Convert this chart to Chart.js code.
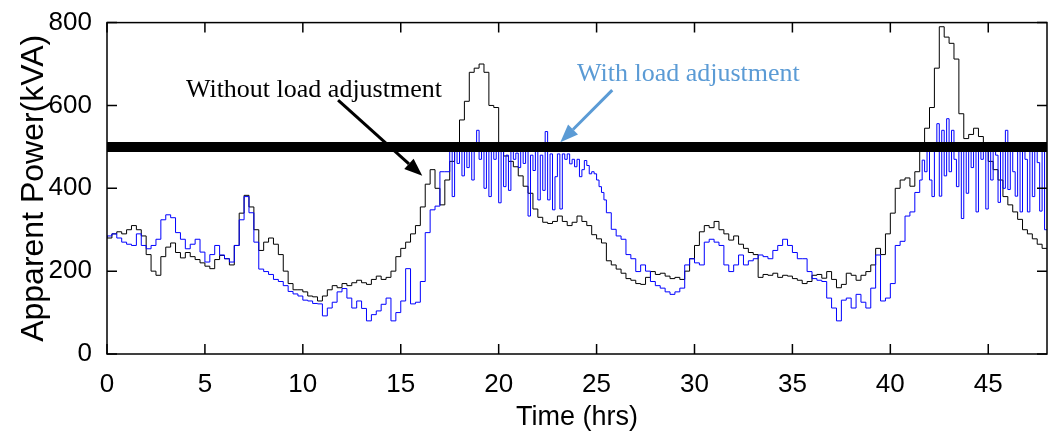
<!DOCTYPE html>
<html>
<head>
<meta charset="utf-8">
<script src="https://cdn.jsdelivr.net/npm/chart.js@4.4.1/dist/chart.umd.min.js"></script>
<style>
  html, body { margin: 0; padding: 0; background: #fff; }
  #wrap { width: 1051px; height: 444px; position: relative; }
</style>
</head>
<body>
<div id="wrap"><canvas id="chart"></canvas></div>
<script>
"use strict";

// one sample every quarter hour, 0..48 hrs
const stepHrs = 0.25;

// kVA, without load adjustment (black)
const withoutAdjust = [
  285, 280, 290, 295,  290, 300, 310, 300,  285, 240, 200, 190,  235, 258, 268, 245,
  232, 245, 235, 228,  220, 212, 206, 228,  238, 230, 215, 262,  340, 383, 355, 300,
  250, 270, 280, 265,  240, 200, 170, 155,  155, 150, 140, 138,  128, 140, 155, 165,
  160, 170, 165, 172,  178, 172, 168, 180,  188, 180, 185, 200,  235, 255, 270, 290,
  310, 355, 410, 445,  400, 360, 420, 465,  510, 565, 610, 680,  690, 700, 680, 600,
  595, 505, 478, 465,  452, 430, 405, 388,  350, 330, 318, 315,  320, 333, 320, 310,
  318, 333, 320, 310,  288, 278, 268, 225,  215, 205, 195, 182,  178, 170, 168, 185,
  199, 192, 195, 188,  182, 185, 180, 200,  230, 262, 295, 310,  305, 320, 300, 290,
  275, 285, 265, 255,  245, 240, 185, 192,  190, 195, 185, 190,  188, 182, 178, 170,
  175, 190, 192, 183,  199, 180, 160, 168,  195, 190, 178, 190,  199, 215, 255, 240,
  290, 340, 400, 420,  425, 405, 440, 490,  545, 595, 690, 790,  765, 750, 712, 580,
  520, 530, 545, 525,  490, 465, 445, 420,  380, 360, 343, 325,  300, 290, 278, 265,
  255
];

// kVA, with load adjustment (blue), in pieces: quarter-hour where it is smooth,
// eighth-hour where it chatters against the 500 kVA limit
const withAdjustEarly = [ // 0 .. 17.25 hrs, every 0.25
  280, 285, 290, 280,  270, 265, 262, 290,  262, 254, 262, 277,  324, 336, 329, 293,
  277, 254, 265, 277,  246, 222, 240, 262,  239, 230, 222, 262,  324, 380, 341, 270,
  205, 199, 192, 180,  175, 165, 151, 145,  140, 130, 128, 122,  121,  92, 111, 125,
  150, 158, 135, 111,  128, 110,  80,  95,  104, 120, 135,  80,  100, 128, 206, 121,
  125, 175, 293, 348,  357, 440
];
const withAdjustPeak1 = [ // 17.5 .. 25.375 hrs, every 0.125
  440, 500, 380, 500,  460, 500, 430, 505,  450, 500, 420, 510,  540, 470, 500, 400,
  500, 380, 495, 470,  490, 365, 500, 404,  480, 395, 490, 470,  485, 450, 495, 460,
  490, 333, 480, 443,  490, 372, 480, 395,  537, 372, 483, 348,  428, 483, 350, 483,
  470, 483, 459, 470,  452, 470, 428, 445,  467, 455, 435, 440,  435, 420, 404, 390
];
const withAdjustMid = [ // 25.5 .. 41.25 hrs, every 0.25
  372, 341,
  301, 285, 277, 240,  230, 199, 215, 200,  175, 165, 159, 150,  144, 150, 159, 215,
  230, 220, 215, 270,  277, 270, 262, 215,  199, 215, 239, 215,  225, 230, 239, 235,
  230, 250, 262, 277,  262, 245, 230, 230,  199, 182, 178, 175,  135, 111,  80, 130,
  135, 111, 144, 125,  111, 159, 239, 128,  135, 170, 262, 272,
  333, 343
];
const withAdjustPeak2 = [ // 41.5 .. 48 hrs, every 0.125
  390, 420, 468, 440,  500, 420, 380, 500,  556, 381, 540, 430,  568, 440, 540, 470,
  404, 500, 327, 500,  388, 500, 450, 500,  343, 500, 470, 510,  350, 500, 420, 500,
  480, 366, 500, 400,  540, 397, 500, 440,  381, 500, 343, 500,  470, 343, 500, 380,
  500, 462, 345, 500,
  300
];

const limitKva = 500;
const xTickValues = [0, 5, 10, 15, 20, 25, 30, 35, 40, 45];
const yTickValues = [0, 200, 400, 600, 800];

const toPoints = (arr, start, step) => arr.map((v, i) => ({ x: start + i * step, y: v }));

const withAdjustPoints = [
  ...toPoints(withAdjustEarly, 0, 0.25),
  ...toPoints(withAdjustPeak1, 17.5, 0.125),
  ...toPoints(withAdjustMid, 25.5, 0.25),
  ...toPoints(withAdjustPeak2, 41.5, 0.125),
];

const SANS = "'Liberation Sans', Arial, sans-serif";
const SERIF = "'Liberation Serif', 'Times New Roman', serif";
const noteBlue = "rgb(91, 155, 213)";

// text + arrow callouts, anchored in data units
const notes = [
  { text: "Without load adjustment", color: "#000", at: [4.03, 620],
    from: [11.8, 613], to: [16.1, 430] },
  { text: "With load adjustment", color: noteBlue, at: [24.0, 658],
    from: [25.8, 637], to: [23.15, 511] },
];

// inward tick marks on all four sides plus the box
const boxAndTicks = {
  id: "boxAndTicks",
  afterDraw(chart) {
    const { ctx, chartArea } = chart;
    const { left, right, top, bottom } = chartArea;
    const xs = chart.scales.x;
    const ys = chart.scales.y;
    const len = 10;
    ctx.save();
    ctx.strokeStyle = "#000";
    ctx.lineWidth = 1.5;
    ctx.beginPath();
    for (const v of xTickValues) {
      const px = xs.getPixelForValue(v);
      ctx.moveTo(px, bottom);
      ctx.lineTo(px, bottom - len);
      ctx.moveTo(px, top);
      ctx.lineTo(px, top + len);
    }
    for (const v of yTickValues) {
      const py = ys.getPixelForValue(v);
      ctx.moveTo(left, py);
      ctx.lineTo(left + len, py);
      ctx.moveTo(right, py);
      ctx.lineTo(right - len, py);
    }
    ctx.stroke();
    ctx.strokeRect(left, top, right - left, bottom - top);
    ctx.restore();
  },
};

const callouts = {
  id: "callouts",
  afterDraw(chart) {
    const { ctx, scales } = chart;
    const px = (p) => [scales.x.getPixelForValue(p[0]), scales.y.getPixelForValue(p[1])];
    ctx.save();
    notes.forEach((n) => {
      const [tx, ty] = px(n.at);
      ctx.font = "26px " + SERIF;
      ctx.fillStyle = n.color;
      ctx.textBaseline = "alphabetic";
      ctx.fillText(n.text, tx, ty);

      const [x0, y0] = px(n.from);
      const [x1, y1] = px(n.to);
      const ang = Math.atan2(y1 - y0, x1 - x0);
      const head = 18;
      const half = 7;
      const bx = x1 - head * Math.cos(ang);
      const by = y1 - head * Math.sin(ang);
      ctx.strokeStyle = n.color;
      ctx.lineWidth = 3;
      ctx.beginPath();
      ctx.moveTo(x0, y0);
      ctx.lineTo(bx, by);
      ctx.stroke();
      ctx.beginPath();
      ctx.moveTo(x1, y1);
      ctx.lineTo(bx + half * Math.sin(ang), by - half * Math.cos(ang));
      ctx.lineTo(bx - half * Math.sin(ang), by + half * Math.cos(ang));
      ctx.closePath();
      ctx.fill();
    });
    ctx.restore();
  },
};

new Chart(document.getElementById("chart"), {
  type: "line",
  data: {
    datasets: [
      {
        label: "Limit",
        data: [{ x: 0, y: limitKva }, { x: 48, y: limitKva }],
        borderColor: "#000",
        borderWidth: 10,
        pointRadius: 0,
      },
      {
        label: "With load adjustment",
        data: withAdjustPoints,
        borderColor: "#0000ff",
        borderWidth: 1,
        pointRadius: 0,
        stepped: "after",
      },
      {
        label: "Without load adjustment",
        data: toPoints(withoutAdjust, 0, stepHrs),
        borderColor: "#000",
        borderWidth: 1,
        pointRadius: 0,
        stepped: "after",
      },
    ],
  },
  options: {
    responsive: true,
    maintainAspectRatio: false,
    animation: false,
    events: [],
    layout: { padding: { top: 16, right: 4, left: 0, bottom: 0 } },
    plugins: { legend: { display: false }, tooltip: { enabled: false } },
    scales: {
      x: {
        type: "linear",
        min: 0,
        max: 48,
        grid: { display: false },
        border: { display: false },
        afterBuildTicks: (scale) => {
          scale.ticks = xTickValues.map((v) => ({ value: v }));
        },
        afterFit: (scale) => { scale.height = 90; },
        ticks: {
          color: "#000",
          padding: 7,
          maxRotation: 0,
          font: { family: SANS, size: 26 },
        },
        title: {
          display: true,
          text: "Time (hrs)",
          color: "#000",
          font: { family: SANS, size: 27 },
          padding: { top: 0, bottom: 10 },
        },
      },
      y: {
        min: 0,
        max: 800,
        grid: { display: false },
        border: { display: false },
        afterBuildTicks: (scale) => {
          scale.ticks = yTickValues.map((v) => ({ value: v }));
        },
        afterFit: (scale) => { scale.width = 107; },
        ticks: {
          color: "#000",
          padding: 7,
          font: { family: SANS, size: 26 },
        },
        title: {
          display: true,
          text: "Apparent Power(kVA)",
          color: "#000",
          font: { family: SANS, size: 32 },
          padding: { top: 15, bottom: 0 },
        },
      },
    },
  },
  plugins: [boxAndTicks, callouts],
});
</script>
</body>
</html>
